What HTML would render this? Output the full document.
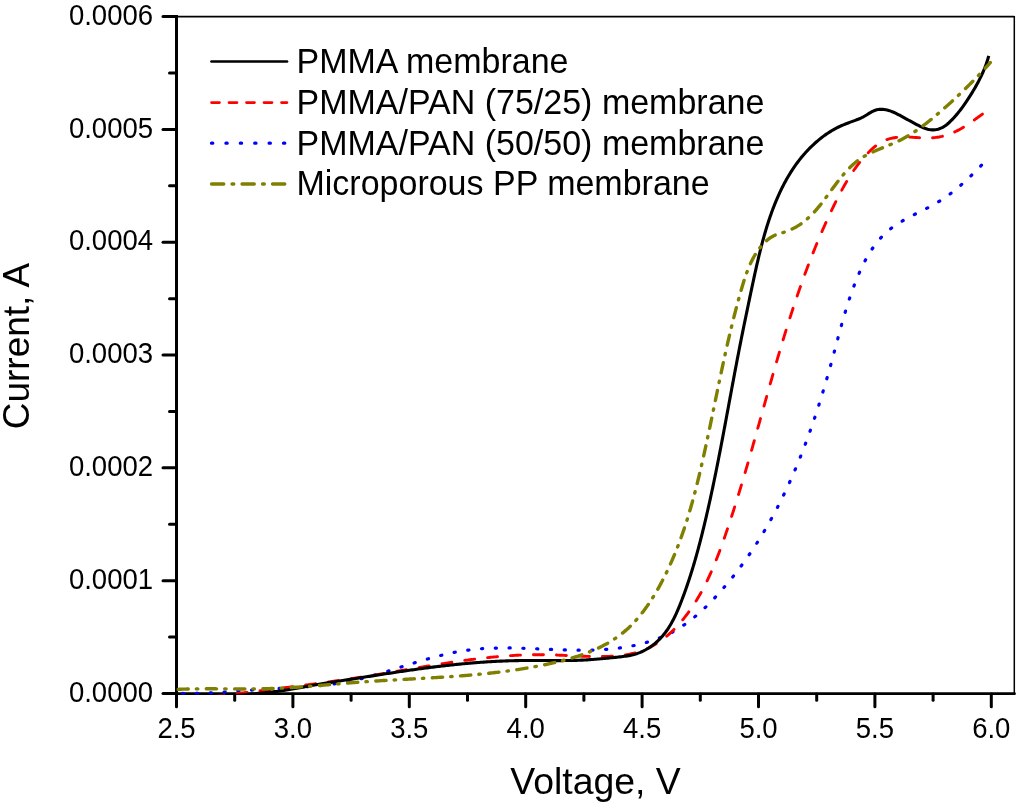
<!DOCTYPE html><html><head><meta charset="utf-8"><style>html,body{margin:0;padding:0;background:#fff;width:1024px;height:808px;overflow:hidden}svg{display:block;will-change:transform}text{font-family:"Liberation Sans",sans-serif;fill:#000}</style></head><body>
<svg width="1024" height="808" viewBox="0 0 1024 808">
<g stroke="#000" fill="none">
<line x1="176.5" y1="16.65" x2="1014.3" y2="16.65" stroke-width="1.6"/>
<line x1="1014.3" y1="16" x2="1014.3" y2="693.5" stroke-width="1.5"/>
<line x1="176.5" y1="15.1" x2="176.5" y2="695" stroke-width="3"/>
<line x1="176.5" y1="693.7" x2="1014.5" y2="693.7" stroke-width="2.8" stroke-linecap="round"/>
<line x1="163" y1="693.50" x2="176" y2="693.50" stroke-width="3" stroke-linecap="round"/>
<line x1="169.5" y1="637.09" x2="176" y2="637.09" stroke-width="3" stroke-linecap="round"/>
<line x1="163" y1="580.68" x2="176" y2="580.68" stroke-width="3" stroke-linecap="round"/>
<line x1="169.5" y1="524.27" x2="176" y2="524.27" stroke-width="3" stroke-linecap="round"/>
<line x1="163" y1="467.87" x2="176" y2="467.87" stroke-width="3" stroke-linecap="round"/>
<line x1="169.5" y1="411.46" x2="176" y2="411.46" stroke-width="3" stroke-linecap="round"/>
<line x1="163" y1="355.05" x2="176" y2="355.05" stroke-width="3" stroke-linecap="round"/>
<line x1="169.5" y1="298.64" x2="176" y2="298.64" stroke-width="3" stroke-linecap="round"/>
<line x1="163" y1="242.23" x2="176" y2="242.23" stroke-width="3" stroke-linecap="round"/>
<line x1="169.5" y1="185.82" x2="176" y2="185.82" stroke-width="3" stroke-linecap="round"/>
<line x1="163" y1="129.42" x2="176" y2="129.42" stroke-width="3" stroke-linecap="round"/>
<line x1="169.5" y1="73.01" x2="176" y2="73.01" stroke-width="3" stroke-linecap="round"/>
<line x1="163" y1="16.60" x2="176" y2="16.60" stroke-width="3" stroke-linecap="round"/>
<line x1="176.50" y1="694" x2="176.50" y2="706.8" stroke-width="3" stroke-linecap="round"/>
<line x1="234.70" y1="694" x2="234.70" y2="700.3" stroke-width="3" stroke-linecap="round"/>
<line x1="292.90" y1="694" x2="292.90" y2="706.8" stroke-width="3" stroke-linecap="round"/>
<line x1="351.10" y1="694" x2="351.10" y2="700.3" stroke-width="3" stroke-linecap="round"/>
<line x1="409.30" y1="694" x2="409.30" y2="706.8" stroke-width="3" stroke-linecap="round"/>
<line x1="467.50" y1="694" x2="467.50" y2="700.3" stroke-width="3" stroke-linecap="round"/>
<line x1="525.70" y1="694" x2="525.70" y2="706.8" stroke-width="3" stroke-linecap="round"/>
<line x1="583.90" y1="694" x2="583.90" y2="700.3" stroke-width="3" stroke-linecap="round"/>
<line x1="642.10" y1="694" x2="642.10" y2="706.8" stroke-width="3" stroke-linecap="round"/>
<line x1="700.30" y1="694" x2="700.30" y2="700.3" stroke-width="3" stroke-linecap="round"/>
<line x1="758.50" y1="694" x2="758.50" y2="706.8" stroke-width="3" stroke-linecap="round"/>
<line x1="816.70" y1="694" x2="816.70" y2="700.3" stroke-width="3" stroke-linecap="round"/>
<line x1="874.90" y1="694" x2="874.90" y2="706.8" stroke-width="3" stroke-linecap="round"/>
<line x1="933.10" y1="694" x2="933.10" y2="700.3" stroke-width="3" stroke-linecap="round"/>
<line x1="991.30" y1="694" x2="991.30" y2="706.8" stroke-width="3" stroke-linecap="round"/>
</g>
<defs><clipPath id="pc"><rect x="176.5" y="16" width="838" height="678.6"/></clipPath></defs>
<g clip-path="url(#pc)" fill="none" stroke-linejoin="round">
<path d="M176.53,693.30 L178.02,693.35 L179.52,693.39 L181.02,693.43 L182.52,693.46 L184.02,693.48 L185.52,693.49 L187.02,693.50 L188.51,693.51 L190.01,693.50 L191.51,693.49 L193.01,693.48 L194.51,693.45 L196.01,693.43 L197.51,693.39 L199.01,693.36 L200.50,693.31 L202.00,693.26 L203.50,693.21 L205.00,693.15 L206.50,693.09 L207.99,693.03 L209.49,692.96 L210.99,692.88 L212.49,692.81 L213.98,692.72 L215.48,692.64 L216.98,692.55 L218.47,692.46 L219.97,692.37 L221.46,692.27 L222.96,692.18 L224.45,692.08 L225.95,691.97 L227.45,691.87 L228.94,691.76 L230.44,691.66 L231.93,691.55 L233.43,691.44 L234.92,691.33 L236.42,691.21 L237.91,691.10 L239.40,690.99 L240.90,690.87 L242.39,690.76 L243.89,690.65 L245.38,690.53 L246.88,690.42 L248.37,690.31 L249.87,690.19 L251.36,690.08 L252.86,689.97 L254.35,689.86 L255.85,689.75 L257.34,689.65 L258.84,689.54 L260.33,689.44 L261.83,689.34 L263.32,689.24 L264.82,689.14 L266.32,689.05 L267.81,688.96 L269.31,688.87 L270.81,688.78 L272.30,688.70 L273.80,688.61 L275.30,688.53 L276.79,688.45 L278.29,688.37 L279.79,688.29 L281.28,688.21 L282.78,688.13 L284.28,688.05 L285.77,687.97 L287.27,687.89 L288.77,687.81 L290.26,687.73 L291.76,687.65 L293.26,687.56 L294.75,687.48 L296.25,687.39 L297.75,687.30 L299.24,687.21 L300.74,687.12 L302.23,687.02 L303.73,686.92 L305.23,686.82 L306.72,686.71 L308.22,686.61 L309.71,686.49 L311.20,686.38 L312.70,686.26 L314.19,686.13 L315.69,686.00 L317.18,685.87 L318.67,685.73 L320.16,685.58 L321.65,685.43 L323.15,685.28 L324.64,685.11 L326.13,684.94 L327.61,684.77 L329.10,684.59 L330.59,684.40 L332.08,684.20 L333.56,684.00 L335.04,683.79 L336.53,683.57 L338.01,683.35 L339.49,683.11 L340.97,682.87 L342.45,682.62 L343.92,682.36 L345.40,682.09 L346.87,681.82 L348.34,681.53 L349.81,681.23 L351.28,680.93 L352.75,680.62 L354.21,680.30 L355.67,679.97 L357.13,679.63 L358.59,679.29 L360.05,678.94 L361.51,678.58 L362.96,678.22 L364.41,677.85 L365.86,677.47 L367.31,677.09 L368.76,676.70 L370.21,676.31 L371.65,675.91 L373.10,675.51 L374.54,675.10 L375.98,674.69 L377.42,674.27 L378.86,673.86 L380.30,673.43 L381.74,673.01 L383.17,672.58 L384.61,672.15 L386.04,671.71 L387.48,671.27 L388.91,670.83 L390.34,670.39 L391.77,669.95 L393.20,669.50 L394.64,669.06 L396.07,668.61 L397.50,668.16 L398.93,667.72 L400.36,667.27 L401.79,666.82 L403.22,666.37 L404.65,665.92 L406.08,665.47 L407.51,665.03 L408.94,664.58 L410.37,664.13 L411.80,663.69 L413.24,663.25 L414.67,662.81 L416.10,662.37 L417.54,661.94 L418.97,661.50 L420.41,661.07 L421.84,660.64 L423.28,660.22 L424.72,659.80 L426.16,659.38 L427.60,658.97 L429.04,658.56 L430.49,658.16 L431.93,657.76 L433.38,657.36 L434.83,656.97 L436.28,656.59 L437.73,656.21 L439.18,655.84 L440.63,655.47 L442.09,655.12 L443.54,654.76 L445.00,654.42 L446.46,654.08 L447.92,653.75 L449.39,653.42 L450.85,653.11 L452.32,652.80 L453.79,652.50 L455.26,652.21 L456.73,651.93 L458.21,651.66 L459.68,651.40 L461.16,651.15 L462.64,650.91 L464.12,650.68 L465.60,650.46 L467.09,650.25 L468.57,650.05 L470.06,649.86 L471.55,649.68 L473.04,649.51 L474.53,649.35 L476.02,649.21 L477.51,649.07 L479.01,648.94 L480.50,648.82 L482.00,648.71 L483.49,648.60 L484.99,648.51 L486.48,648.42 L487.98,648.34 L489.48,648.27 L490.98,648.21 L492.47,648.15 L493.97,648.10 L495.47,648.06 L496.97,648.02 L498.47,647.99 L499.97,647.97 L501.46,647.96 L502.96,647.94 L504.46,647.94 L505.96,647.94 L507.46,647.94 L508.96,647.95 L510.46,647.97 L511.96,647.99 L513.46,648.01 L514.95,648.04 L516.45,648.07 L517.95,648.10 L519.45,648.14 L520.95,648.19 L522.45,648.23 L523.95,648.28 L525.44,648.33 L526.94,648.38 L528.44,648.44 L529.94,648.49 L531.44,648.55 L532.93,648.61 L534.43,648.67 L535.93,648.74 L537.43,648.80 L538.92,648.87 L540.42,648.93 L541.92,649.00 L543.42,649.06 L544.91,649.13 L546.41,649.20 L547.91,649.26 L549.41,649.33 L550.90,649.39 L552.40,649.45 L553.90,649.52 L555.40,649.58 L556.89,649.64 L558.39,649.69 L559.89,649.75 L561.39,649.80 L562.89,649.85 L564.38,649.90 L565.88,649.95 L567.38,649.99 L568.88,650.03 L570.38,650.06 L571.88,650.09 L573.38,650.12 L574.87,650.15 L576.37,650.17 L577.87,650.18 L579.37,650.19 L580.87,650.20 L582.37,650.20 L583.87,650.19 L585.37,650.18 L586.87,650.17 L588.36,650.15 L589.86,650.12 L591.36,650.09 L592.86,650.04 L594.36,650.00 L595.86,649.94 L597.35,649.88 L598.85,649.81 L600.35,649.74 L601.85,649.65 L603.34,649.56 L604.84,649.46 L606.33,649.35 L607.83,649.23 L609.32,649.11 L610.81,648.97 L612.31,648.83 L613.80,648.67 L615.29,648.51 L616.77,648.33 L618.26,648.15 L619.75,647.96 L621.23,647.75 L622.72,647.54 L624.20,647.31 L625.68,647.07 L627.16,646.83 L628.63,646.57 L630.11,646.30 L631.58,646.01 L633.05,645.72 L634.52,645.41 L635.98,645.10 L637.44,644.77 L638.90,644.42 L640.36,644.07 L641.81,643.70 L643.26,643.32 L644.71,642.92 L646.15,642.51 L647.59,642.09 L649.02,641.65 L650.45,641.20 L651.88,640.74 L653.30,640.26 L654.71,639.77 L656.12,639.26 L657.53,638.74 L658.93,638.20 L660.32,637.65 L661.71,637.08 L663.09,636.49 L664.46,635.89 L665.83,635.28 L667.19,634.65 L668.54,634.00 L669.88,633.33 L671.22,632.65 L672.55,631.96 L673.87,631.25 L675.18,630.52 L676.48,629.77 L677.77,629.01 L679.05,628.23 L680.32,627.43 L681.58,626.62 L682.83,625.80 L684.07,624.96 L685.30,624.10 L686.53,623.24 L687.74,622.35 L688.94,621.46 L690.14,620.56 L691.32,619.64 L692.50,618.71 L693.66,617.77 L694.82,616.82 L695.97,615.85 L697.11,614.88 L698.25,613.90 L699.37,612.91 L700.49,611.91 L701.60,610.90 L702.70,609.88 L703.79,608.86 L704.88,607.83 L705.96,606.79 L707.03,605.74 L708.09,604.68 L709.15,603.62 L710.20,602.55 L711.25,601.48 L712.29,600.40 L713.32,599.31 L714.35,598.22 L715.37,597.13 L716.39,596.03 L717.40,594.92 L718.41,593.81 L719.41,592.69 L720.41,591.57 L721.40,590.45 L722.39,589.32 L723.37,588.19 L724.35,587.06 L725.32,585.92 L726.29,584.77 L727.26,583.63 L728.22,582.48 L729.17,581.32 L730.12,580.16 L731.07,579.00 L732.01,577.83 L732.95,576.66 L733.88,575.49 L734.81,574.31 L735.73,573.13 L736.65,571.94 L737.56,570.76 L738.47,569.56 L739.37,568.37 L740.27,567.17 L741.17,565.96 L742.06,564.76 L742.94,563.55 L743.82,562.34 L744.70,561.12 L745.57,559.90 L746.44,558.68 L747.30,557.45 L748.15,556.22 L749.01,554.99 L749.86,553.75 L750.70,552.51 L751.54,551.27 L752.37,550.03 L753.20,548.78 L754.03,547.53 L754.85,546.27 L755.67,545.01 L756.48,543.75 L757.28,542.49 L758.09,541.23 L758.89,539.96 L759.68,538.69 L760.47,537.41 L761.25,536.13 L762.03,534.85 L762.81,533.57 L763.58,532.29 L764.35,531.00 L765.11,529.71 L765.87,528.42 L766.63,527.12 L767.38,525.82 L768.12,524.52 L768.86,523.22 L769.60,521.92 L770.33,520.61 L771.06,519.30 L771.79,517.99 L772.51,516.67 L773.22,515.35 L773.94,514.04 L774.64,512.71 L775.35,511.39 L776.05,510.06 L776.74,508.74 L777.43,507.41 L778.12,506.08 L778.81,504.74 L779.49,503.41 L780.16,502.07 L780.83,500.73 L781.50,499.38 L782.16,498.04 L782.82,496.70 L783.48,495.35 L784.13,494.00 L784.78,492.65 L785.43,491.29 L786.07,489.94 L786.70,488.58 L787.34,487.22 L787.97,485.86 L788.59,484.50 L789.21,483.14 L789.83,481.77 L790.45,480.40 L791.06,479.04 L791.67,477.67 L792.27,476.29 L792.87,474.92 L793.47,473.55 L794.06,472.17 L794.65,470.79 L795.24,469.41 L795.82,468.03 L796.40,466.65 L796.98,465.27 L797.56,463.88 L798.13,462.49 L798.69,461.11 L799.26,459.72 L799.82,458.33 L800.37,456.94 L800.93,455.54 L801.48,454.15 L802.03,452.75 L802.57,451.36 L803.11,449.96 L803.65,448.56 L804.18,447.16 L804.72,445.76 L805.25,444.36 L805.77,442.95 L806.30,441.55 L806.82,440.14 L807.33,438.74 L807.85,437.33 L808.36,435.92 L808.87,434.51 L809.38,433.10 L809.88,431.69 L810.38,430.27 L810.88,428.86 L811.37,427.44 L811.86,426.03 L812.35,424.61 L812.84,423.19 L813.33,421.78 L813.81,420.36 L814.29,418.94 L814.77,417.52 L815.24,416.09 L815.71,414.67 L816.18,413.25 L816.65,411.82 L817.11,410.40 L817.58,408.97 L818.04,407.55 L818.49,406.12 L818.95,404.69 L819.40,403.26 L819.85,401.83 L820.30,400.40 L820.75,398.97 L821.19,397.54 L821.63,396.11 L822.07,394.67 L822.51,393.24 L822.95,391.80 L823.38,390.37 L823.81,388.93 L824.24,387.50 L824.67,386.06 L825.09,384.62 L825.52,383.19 L825.94,381.75 L826.36,380.31 L826.78,378.87 L827.19,377.43 L827.61,375.99 L828.02,374.55 L828.43,373.11 L828.84,371.66 L829.25,370.22 L829.65,368.78 L830.06,367.34 L830.46,365.89 L830.86,364.45 L831.26,363.00 L831.66,361.56 L832.05,360.11 L832.45,358.66 L832.84,357.22 L833.23,355.77 L833.62,354.32 L834.01,352.88 L834.40,351.43 L834.79,349.98 L835.17,348.53 L835.56,347.08 L835.94,345.64 L836.33,344.19 L836.72,342.74 L837.10,341.29 L837.49,339.84 L837.88,338.39 L838.26,336.95 L838.65,335.50 L839.04,334.05 L839.43,332.60 L839.83,331.16 L840.22,329.71 L840.62,328.26 L841.01,326.82 L841.41,325.38 L841.82,323.93 L842.22,322.49 L842.63,321.05 L843.04,319.60 L843.45,318.16 L843.87,316.72 L844.29,315.28 L844.72,313.85 L845.14,312.41 L845.57,310.97 L846.01,309.54 L846.45,308.11 L846.89,306.68 L847.34,305.24 L847.79,303.82 L848.25,302.39 L848.72,300.96 L849.18,299.54 L849.66,298.12 L850.14,296.70 L850.62,295.28 L851.11,293.86 L851.61,292.45 L852.11,291.04 L852.62,289.63 L853.14,288.22 L853.66,286.81 L854.19,285.41 L854.72,284.01 L855.27,282.61 L855.82,281.22 L856.37,279.83 L856.94,278.44 L857.51,277.05 L858.09,275.67 L858.68,274.29 L859.27,272.92 L859.88,271.55 L860.50,270.18 L861.12,268.82 L861.76,267.46 L862.41,266.11 L863.07,264.76 L863.74,263.42 L864.42,262.09 L865.11,260.76 L865.82,259.44 L866.54,258.12 L867.28,256.82 L868.02,255.52 L868.79,254.23 L869.57,252.95 L870.36,251.68 L871.17,250.41 L872.00,249.16 L872.84,247.92 L873.70,246.69 L874.57,245.48 L875.47,244.28 L876.38,243.09 L877.31,241.91 L878.26,240.75 L879.23,239.61 L880.22,238.48 L881.23,237.37 L882.25,236.28 L883.30,235.21 L884.37,234.16 L885.46,233.12 L886.56,232.11 L887.69,231.13 L888.84,230.16 L890.00,229.22 L891.19,228.30 L892.39,227.40 L893.61,226.53 L894.84,225.67 L896.08,224.83 L897.34,224.02 L898.60,223.21 L899.88,222.43 L901.16,221.66 L902.46,220.90 L903.76,220.16 L905.07,219.43 L906.38,218.70 L907.70,217.99 L909.03,217.29 L910.35,216.60 L911.68,215.91 L913.02,215.22 L914.36,214.55 L915.69,213.87 L917.03,213.20 L918.37,212.53 L919.72,211.86 L921.06,211.19 L922.40,210.51 L923.73,209.84 L925.07,209.16 L926.41,208.48 L927.74,207.79 L929.07,207.10 L930.39,206.40 L931.71,205.69 L933.03,204.97 L934.34,204.24 L935.64,203.49 L936.93,202.74 L938.22,201.97 L939.50,201.19 L940.77,200.39 L942.03,199.58 L943.28,198.76 L944.52,197.92 L945.76,197.07 L946.98,196.21 L948.20,195.33 L949.41,194.44 L950.61,193.54 L951.80,192.63 L952.98,191.71 L954.16,190.78 L955.32,189.84 L956.48,188.89 L957.63,187.93 L958.78,186.96 L959.91,185.98 L961.04,185.00 L962.16,184.00 L963.28,183.00 L964.39,182.00 L965.50,180.98 L966.59,179.96 L967.69,178.94 L968.77,177.90 L969.86,176.87 L970.93,175.82 L972.01,174.78 L973.07,173.73 L974.14,172.67 L975.20,171.61 L976.26,170.55 L977.31,169.48 L978.36,168.42 L979.41,167.35 L980.46,166.27 L981.50,165.20" stroke="#0000ff" stroke-width="3.2" stroke-dasharray="1.2 12.6" stroke-dashoffset="7.65" stroke-linecap="round"/>
<path d="M199.95,698.07 L201.44,697.89 L202.93,697.71 L204.41,697.53 L205.90,697.35 L207.39,697.17 L208.88,696.99 L210.36,696.81 L211.85,696.63 L213.34,696.45 L214.83,696.27 L216.32,696.09 L217.80,695.91 L219.29,695.73 L220.78,695.55 L222.27,695.37 L223.76,695.19 L225.24,695.01 L226.73,694.83 L228.22,694.65 L229.71,694.47 L231.19,694.29 L232.68,694.11 L234.17,693.94 L235.66,693.76 L237.15,693.58 L238.63,693.40 L240.12,693.22 L241.61,693.04 L243.10,692.86 L244.59,692.68 L246.07,692.50 L247.56,692.32 L249.05,692.14 L250.54,691.96 L252.02,691.78 L253.51,691.60 L255.00,691.42 L256.49,691.24 L257.98,691.06 L259.46,690.87 L260.95,690.69 L262.44,690.51 L263.93,690.33 L265.41,690.14 L266.90,689.96 L268.39,689.78 L269.88,689.60 L271.36,689.41 L272.85,689.23 L274.34,689.04 L275.82,688.86 L277.31,688.67 L278.80,688.49 L280.29,688.30 L281.77,688.11 L283.26,687.93 L284.75,687.74 L286.23,687.55 L287.72,687.36 L289.21,687.17 L290.69,686.98 L292.18,686.79 L293.67,686.60 L295.15,686.41 L296.64,686.22 L298.13,686.03 L299.61,685.83 L301.10,685.64 L302.58,685.45 L304.07,685.25 L305.56,685.06 L307.04,684.86 L308.53,684.66 L310.01,684.47 L311.50,684.27 L312.98,684.07 L314.47,683.87 L315.95,683.67 L317.44,683.47 L318.92,683.27 L320.41,683.07 L321.89,682.86 L323.38,682.66 L324.86,682.45 L326.35,682.25 L327.83,682.04 L329.32,681.83 L330.80,681.63 L332.28,681.42 L333.77,681.21 L335.25,681.00 L336.74,680.78 L338.22,680.57 L339.70,680.36 L341.19,680.14 L342.67,679.93 L344.15,679.71 L345.63,679.49 L347.12,679.28 L348.60,679.06 L350.08,678.84 L351.56,678.61 L353.05,678.39 L354.53,678.17 L356.01,677.94 L357.49,677.72 L358.97,677.49 L360.45,677.26 L361.93,677.03 L363.42,676.80 L364.90,676.57 L366.38,676.34 L367.86,676.11 L369.34,675.87 L370.82,675.64 L372.30,675.40 L373.78,675.16 L375.26,674.92 L376.73,674.68 L378.21,674.44 L379.69,674.19 L381.17,673.95 L382.65,673.71 L384.13,673.46 L385.61,673.21 L387.08,672.96 L388.56,672.72 L390.04,672.47 L391.52,672.22 L393.00,671.97 L394.47,671.72 L395.95,671.47 L397.43,671.21 L398.91,670.96 L400.38,670.71 L401.86,670.46 L403.34,670.21 L404.81,669.95 L406.29,669.70 L407.77,669.45 L409.25,669.20 L410.72,668.95 L412.20,668.69 L413.68,668.44 L415.16,668.19 L416.63,667.94 L418.11,667.69 L419.59,667.44 L421.07,667.19 L422.54,666.94 L424.02,666.70 L425.50,666.45 L426.98,666.20 L428.46,665.96 L429.94,665.71 L431.41,665.47 L432.89,665.23 L434.37,664.99 L435.85,664.75 L437.33,664.51 L438.81,664.27 L440.29,664.04 L441.77,663.80 L443.25,663.57 L444.73,663.34 L446.21,663.11 L447.69,662.88 L449.18,662.65 L450.66,662.43 L452.14,662.21 L453.62,661.99 L455.11,661.77 L456.59,661.55 L458.07,661.34 L459.55,661.13 L461.04,660.92 L462.52,660.71 L464.01,660.50 L465.49,660.30 L466.98,660.10 L468.46,659.90 L469.95,659.71 L471.44,659.52 L472.92,659.33 L474.41,659.14 L475.90,658.96 L477.38,658.78 L478.87,658.60 L480.36,658.42 L481.85,658.25 L483.34,658.08 L484.83,657.92 L486.32,657.76 L487.81,657.60 L489.30,657.44 L490.79,657.29 L492.28,657.14 L493.77,657.00 L495.26,656.86 L496.76,656.72 L498.25,656.59 L499.74,656.46 L501.24,656.34 L502.73,656.22 L504.22,656.10 L505.72,655.99 L507.21,655.88 L508.71,655.77 L510.20,655.68 L511.70,655.58 L513.20,655.49 L514.69,655.40 L516.19,655.32 L517.68,655.25 L519.18,655.17 L520.68,655.11 L522.18,655.04 L523.67,654.99 L525.17,654.93 L526.67,654.89 L528.17,654.84 L529.67,654.81 L531.16,654.78 L532.66,654.75 L534.16,654.73 L535.66,654.71 L537.16,654.70 L538.66,654.70 L540.16,654.70 L541.65,654.71 L543.15,654.72 L544.65,654.74 L546.15,654.76 L547.65,654.79 L549.15,654.83 L550.64,654.87 L552.14,654.91 L553.64,654.96 L555.14,655.02 L556.64,655.07 L558.13,655.13 L559.63,655.19 L561.13,655.26 L562.62,655.32 L564.12,655.39 L565.62,655.46 L567.12,655.53 L568.61,655.60 L570.11,655.67 L571.61,655.74 L573.10,655.81 L574.60,655.88 L576.10,655.95 L577.59,656.02 L579.09,656.08 L580.59,656.14 L582.09,656.20 L583.58,656.25 L585.08,656.31 L586.58,656.35 L588.08,656.40 L589.58,656.44 L591.07,656.47 L592.57,656.50 L594.07,656.52 L595.57,656.54 L597.07,656.55 L598.57,656.56 L600.07,656.56 L601.56,656.55 L603.06,656.53 L604.56,656.51 L606.06,656.47 L607.56,656.43 L609.06,656.37 L610.55,656.30 L612.05,656.22 L613.54,656.13 L615.04,656.03 L616.53,655.91 L618.03,655.78 L619.52,655.63 L621.01,655.46 L622.49,655.28 L623.98,655.08 L625.46,654.86 L626.94,654.62 L628.42,654.36 L629.89,654.07 L631.36,653.77 L632.82,653.44 L634.28,653.09 L635.73,652.71 L637.17,652.31 L638.61,651.88 L640.03,651.43 L641.45,650.94 L642.86,650.43 L644.25,649.88 L645.64,649.31 L647.01,648.70 L648.37,648.08 L649.72,647.42 L651.05,646.73 L652.37,646.03 L653.68,645.29 L654.97,644.53 L656.25,643.75 L657.52,642.95 L658.77,642.12 L660.00,641.28 L661.22,640.41 L662.43,639.52 L663.63,638.62 L664.80,637.69 L665.97,636.75 L667.12,635.79 L668.26,634.81 L669.38,633.82 L670.49,632.81 L671.59,631.79 L672.67,630.75 L673.74,629.70 L674.79,628.64 L675.83,627.56 L676.86,626.47 L677.88,625.37 L678.89,624.26 L679.88,623.14 L680.86,622.00 L681.83,620.86 L682.78,619.71 L683.73,618.54 L684.66,617.37 L685.59,616.19 L686.50,615.00 L687.40,613.80 L688.29,612.60 L689.17,611.38 L690.04,610.16 L690.89,608.93 L691.74,607.70 L692.58,606.46 L693.41,605.21 L694.22,603.95 L695.03,602.69 L695.83,601.42 L696.61,600.14 L697.39,598.86 L698.16,597.57 L698.91,596.28 L699.66,594.98 L700.40,593.68 L701.13,592.37 L701.85,591.05 L702.56,589.74 L703.27,588.41 L703.96,587.08 L704.65,585.75 L705.33,584.41 L705.99,583.07 L706.66,581.73 L707.31,580.38 L707.96,579.03 L708.59,577.67 L709.23,576.31 L709.85,574.95 L710.47,573.59 L711.08,572.22 L711.68,570.84 L712.28,569.47 L712.87,568.09 L713.45,566.71 L714.03,565.33 L714.60,563.94 L715.17,562.56 L715.73,561.17 L716.29,559.78 L716.84,558.38 L717.38,556.99 L717.92,555.59 L718.46,554.19 L718.99,552.79 L719.52,551.39 L720.04,549.98 L720.56,548.57 L721.08,547.17 L721.59,545.76 L722.09,544.35 L722.60,542.94 L723.10,541.53 L723.60,540.11 L724.10,538.70 L724.59,537.28 L725.08,535.87 L725.57,534.45 L726.05,533.03 L726.54,531.61 L727.02,530.20 L727.50,528.78 L727.98,527.36 L728.46,525.93 L728.93,524.51 L729.40,523.09 L729.87,521.67 L730.34,520.25 L730.81,518.82 L731.28,517.40 L731.74,515.97 L732.20,514.55 L732.67,513.12 L733.13,511.69 L733.58,510.27 L734.04,508.84 L734.49,507.41 L734.95,505.98 L735.40,504.55 L735.85,503.12 L736.30,501.69 L736.74,500.26 L737.19,498.83 L737.63,497.40 L738.08,495.97 L738.52,494.54 L738.96,493.11 L739.40,491.67 L739.83,490.24 L740.27,488.81 L740.71,487.37 L741.14,485.94 L741.57,484.50 L742.00,483.07 L742.43,481.63 L742.86,480.20 L743.29,478.76 L743.72,477.32 L744.15,475.89 L744.57,474.45 L744.99,473.01 L745.42,471.57 L745.84,470.14 L746.26,468.70 L746.68,467.26 L747.10,465.82 L747.52,464.38 L747.94,462.94 L748.35,461.50 L748.77,460.06 L749.18,458.62 L749.60,457.18 L750.01,455.74 L750.42,454.30 L750.84,452.86 L751.25,451.42 L751.66,449.98 L752.07,448.54 L752.48,447.10 L752.89,445.65 L753.30,444.21 L753.71,442.77 L754.11,441.33 L754.52,439.89 L754.93,438.44 L755.34,437.00 L755.74,435.56 L756.15,434.12 L756.55,432.67 L756.96,431.23 L757.36,429.79 L757.77,428.34 L758.17,426.90 L758.58,425.46 L758.98,424.02 L759.38,422.57 L759.79,421.13 L760.19,419.69 L760.59,418.24 L761.00,416.80 L761.40,415.36 L761.80,413.91 L762.21,412.47 L762.61,411.03 L763.01,409.58 L763.42,408.14 L763.82,406.70 L764.22,405.25 L764.63,403.81 L765.03,402.37 L765.44,400.92 L765.84,399.48 L766.25,398.04 L766.65,396.59 L767.06,395.15 L767.46,393.71 L767.87,392.27 L768.27,390.82 L768.68,389.38 L769.09,387.94 L769.49,386.50 L769.90,385.05 L770.31,383.61 L770.72,382.17 L771.13,380.73 L771.54,379.29 L771.95,377.85 L772.36,376.40 L772.77,374.96 L773.18,373.52 L773.60,372.08 L774.01,370.64 L774.43,369.20 L774.84,367.76 L775.26,366.32 L775.67,364.88 L776.09,363.44 L776.51,362.00 L776.93,360.57 L777.35,359.13 L777.77,357.69 L778.19,356.25 L778.62,354.81 L779.04,353.38 L779.47,351.94 L779.89,350.50 L780.32,349.07 L780.75,347.63 L781.18,346.19 L781.61,344.76 L782.04,343.32 L782.47,341.89 L782.91,340.45 L783.34,339.02 L783.78,337.59 L784.22,336.15 L784.66,334.72 L785.10,333.29 L785.54,331.86 L785.98,330.42 L786.43,328.99 L786.87,327.56 L787.32,326.13 L787.77,324.70 L788.22,323.27 L788.67,321.84 L789.13,320.42 L789.58,318.99 L790.04,317.56 L790.50,316.13 L790.96,314.71 L791.42,313.28 L791.88,311.86 L792.35,310.43 L792.81,309.01 L793.28,307.58 L793.75,306.16 L794.22,304.74 L794.70,303.32 L795.17,301.90 L795.65,300.48 L796.13,299.06 L796.61,297.64 L797.10,296.22 L797.58,294.80 L798.07,293.38 L798.56,291.97 L799.05,290.55 L799.54,289.14 L800.04,287.72 L800.53,286.31 L801.03,284.89 L801.54,283.48 L802.04,282.07 L802.55,280.66 L803.05,279.25 L803.57,277.84 L804.08,276.43 L804.59,275.03 L805.11,273.62 L805.63,272.21 L806.15,270.81 L806.68,269.41 L807.20,268.00 L807.73,266.60 L808.26,265.20 L808.80,263.80 L809.33,262.40 L809.87,261.00 L810.41,259.60 L810.96,258.21 L811.50,256.81 L812.05,255.42 L812.60,254.02 L813.16,252.63 L813.72,251.24 L814.28,249.85 L814.84,248.46 L815.40,247.07 L815.97,245.68 L816.54,244.30 L817.11,242.91 L817.69,241.53 L818.27,240.15 L818.85,238.77 L819.43,237.39 L820.02,236.01 L820.61,234.63 L821.20,233.25 L821.80,231.88 L822.39,230.50 L823.00,229.13 L823.60,227.76 L824.21,226.39 L824.82,225.02 L825.43,223.65 L826.05,222.29 L826.66,220.92 L827.29,219.56 L827.91,218.20 L828.54,216.84 L829.17,215.48 L829.81,214.12 L830.44,212.76 L831.08,211.41 L831.73,210.05 L832.37,208.70 L833.02,207.35 L833.68,206.00 L834.33,204.66 L834.99,203.31 L835.66,201.97 L836.32,200.62 L837.00,199.28 L837.67,197.95 L838.35,196.61 L839.04,195.28 L839.73,193.95 L840.43,192.63 L841.14,191.30 L841.85,189.98 L842.56,188.67 L843.29,187.36 L844.02,186.05 L844.76,184.74 L845.51,183.45 L846.26,182.15 L847.03,180.86 L847.80,179.58 L848.58,178.30 L849.37,177.03 L850.18,175.76 L850.99,174.50 L851.81,173.25 L852.64,172.00 L853.49,170.76 L854.34,169.53 L855.21,168.31 L856.09,167.10 L856.98,165.89 L857.88,164.69 L858.79,163.51 L859.72,162.33 L860.66,161.16 L861.61,160.01 L862.58,158.86 L863.56,157.73 L864.56,156.61 L865.57,155.50 L866.59,154.40 L867.63,153.32 L868.68,152.25 L869.74,151.20 L870.82,150.16 L871.92,149.14 L873.04,148.15 L874.18,147.17 L875.34,146.22 L876.53,145.31 L877.74,144.42 L878.97,143.58 L880.24,142.78 L881.53,142.02 L882.86,141.32 L884.21,140.67 L885.58,140.08 L886.99,139.55 L888.41,139.08 L889.85,138.66 L891.30,138.30 L892.77,137.99 L894.24,137.72 L895.73,137.50 L897.21,137.32 L898.71,137.18 L900.20,137.08 L901.70,137.01 L903.20,136.97 L904.69,136.96 L906.19,136.98 L907.69,137.02 L909.19,137.08 L910.69,137.15 L912.18,137.24 L913.68,137.33 L915.17,137.43 L916.67,137.53 L918.16,137.63 L919.66,137.72 L921.16,137.80 L922.65,137.88 L924.15,137.93 L925.65,137.97 L927.15,137.98 L928.65,137.97 L930.14,137.92 L931.64,137.84 L933.13,137.73 L934.63,137.59 L936.11,137.41 L937.60,137.20 L939.08,136.96 L940.55,136.67 L942.01,136.36 L943.47,136.00 L944.92,135.62 L946.35,135.19 L947.78,134.73 L949.19,134.23 L950.59,133.70 L951.98,133.14 L953.36,132.54 L954.72,131.92 L956.07,131.27 L957.41,130.59 L958.74,129.90 L960.05,129.18 L961.35,128.44 L962.65,127.68 L963.93,126.91 L965.20,126.12 L966.47,125.31 L967.73,124.50 L968.97,123.67 L970.22,122.83 L971.45,121.98 L972.68,121.13 L973.91,120.27 L975.13,119.40 L976.35,118.53 L977.57,117.65 L978.78,116.77 L980.00,115.89 L981.21,115.01 L982.42,114.14" stroke="#ff0000" stroke-width="2.9" stroke-dasharray="10 13" stroke-dashoffset="8.52" stroke-linecap="round"/>
<path d="M200.02,698.66 L201.51,698.48 L203.00,698.31 L204.48,698.14 L205.97,697.98 L207.46,697.82 L208.95,697.66 L210.44,697.51 L211.94,697.36 L213.43,697.22 L214.92,697.07 L216.41,696.94 L217.90,696.80 L219.40,696.67 L220.89,696.53 L222.38,696.40 L223.87,696.28 L225.37,696.15 L226.86,696.03 L228.35,695.91 L229.85,695.78 L231.34,695.66 L232.84,695.54 L234.33,695.42 L235.82,695.30 L237.32,695.19 L238.81,695.07 L240.30,694.95 L241.80,694.83 L243.29,694.71 L244.78,694.58 L246.28,694.46 L247.77,694.34 L249.26,694.21 L250.76,694.08 L252.25,693.95 L253.74,693.82 L255.24,693.68 L256.73,693.55 L258.22,693.41 L259.71,693.26 L261.20,693.12 L262.69,692.97 L264.18,692.81 L265.67,692.65 L267.16,692.49 L268.65,692.33 L270.14,692.15 L271.63,691.98 L273.12,691.80 L274.60,691.61 L276.09,691.42 L277.58,691.22 L279.06,691.02 L280.54,690.81 L282.03,690.60 L283.51,690.38 L284.99,690.15 L286.47,689.92 L287.95,689.68 L289.43,689.44 L290.91,689.20 L292.39,688.95 L293.86,688.70 L295.34,688.44 L296.82,688.18 L298.29,687.92 L299.77,687.66 L301.24,687.40 L302.72,687.13 L304.19,686.87 L305.67,686.60 L307.14,686.34 L308.62,686.08 L310.09,685.81 L311.57,685.55 L313.04,685.29 L314.52,685.03 L315.99,684.77 L317.47,684.52 L318.95,684.27 L320.43,684.02 L321.91,683.78 L323.38,683.54 L324.86,683.30 L326.34,683.06 L327.82,682.83 L329.30,682.60 L330.78,682.36 L332.26,682.13 L333.75,681.91 L335.23,681.68 L336.71,681.45 L338.19,681.22 L339.67,680.99 L341.15,680.76 L342.63,680.53 L344.11,680.30 L345.59,680.07 L347.07,679.84 L348.55,679.61 L350.03,679.37 L351.51,679.14 L352.99,678.91 L354.47,678.68 L355.95,678.44 L357.43,678.21 L358.92,677.98 L360.40,677.75 L361.88,677.51 L363.36,677.28 L364.84,677.05 L366.32,676.81 L367.80,676.58 L369.28,676.35 L370.76,676.12 L372.24,675.88 L373.72,675.65 L375.20,675.42 L376.68,675.19 L378.16,674.96 L379.64,674.73 L381.12,674.50 L382.60,674.27 L384.08,674.04 L385.56,673.82 L387.05,673.59 L388.53,673.36 L390.01,673.14 L391.49,672.91 L392.97,672.69 L394.45,672.47 L395.94,672.24 L397.42,672.02 L398.90,671.80 L400.38,671.58 L401.86,671.37 L403.35,671.15 L404.83,670.93 L406.31,670.72 L407.80,670.50 L409.28,670.29 L410.76,670.08 L412.25,669.87 L413.73,669.66 L415.21,669.46 L416.70,669.25 L418.18,669.05 L419.67,668.84 L421.15,668.64 L422.64,668.44 L424.12,668.25 L425.61,668.05 L427.10,667.86 L428.58,667.66 L430.07,667.47 L431.55,667.28 L433.04,667.10 L434.53,666.91 L436.01,666.73 L437.50,666.55 L438.99,666.37 L440.48,666.19 L441.97,666.02 L443.45,665.84 L444.94,665.67 L446.43,665.50 L447.92,665.34 L449.41,665.17 L450.90,665.01 L452.39,664.85 L453.88,664.70 L455.37,664.54 L456.86,664.39 L458.35,664.24 L459.84,664.10 L461.34,663.95 L462.83,663.81 L464.32,663.67 L465.81,663.53 L467.30,663.40 L468.80,663.27 L470.29,663.14 L471.78,663.02 L473.28,662.89 L474.77,662.77 L476.26,662.66 L477.76,662.54 L479.25,662.43 L480.75,662.32 L482.24,662.21 L483.74,662.11 L485.23,662.01 L486.73,661.91 L488.22,661.82 L489.72,661.73 L491.21,661.64 L492.71,661.55 L494.21,661.47 L495.70,661.39 L497.20,661.31 L498.70,661.24 L500.19,661.17 L501.69,661.10 L503.19,661.04 L504.68,660.98 L506.18,660.92 L507.68,660.87 L509.18,660.81 L510.67,660.77 L512.17,660.72 L513.67,660.68 L515.17,660.64 L516.67,660.61 L518.16,660.58 L519.66,660.55 L521.16,660.53 L522.66,660.50 L524.16,660.49 L525.66,660.47 L527.15,660.46 L528.65,660.46 L530.15,660.45 L531.65,660.45 L533.15,660.45 L534.65,660.46 L536.14,660.46 L537.64,660.47 L539.14,660.48 L540.64,660.49 L542.14,660.50 L543.64,660.51 L545.14,660.52 L546.63,660.53 L548.13,660.54 L549.63,660.55 L551.13,660.56 L552.63,660.57 L554.13,660.58 L555.62,660.59 L557.12,660.59 L558.62,660.59 L560.12,660.59 L561.62,660.59 L563.12,660.58 L564.62,660.57 L566.11,660.56 L567.61,660.54 L569.11,660.52 L570.61,660.49 L572.11,660.46 L573.60,660.43 L575.10,660.39 L576.60,660.34 L578.10,660.29 L579.60,660.23 L581.09,660.16 L582.59,660.09 L584.09,660.02 L585.58,659.93 L587.08,659.84 L588.57,659.75 L590.07,659.65 L591.56,659.55 L593.06,659.44 L594.55,659.32 L596.05,659.21 L597.54,659.08 L599.03,658.96 L600.52,658.83 L602.02,658.69 L603.51,658.55 L605.00,658.41 L606.49,658.27 L607.98,658.12 L609.48,657.97 L610.97,657.82 L612.46,657.67 L613.95,657.51 L615.44,657.35 L616.93,657.19 L618.42,657.03 L619.91,656.87 L621.39,656.70 L622.88,656.52 L624.37,656.33 L625.85,656.13 L627.33,655.90 L628.81,655.65 L630.28,655.37 L631.75,655.06 L633.21,654.71 L634.65,654.32 L636.09,653.89 L637.51,653.42 L638.92,652.90 L640.31,652.35 L641.69,651.75 L643.04,651.12 L644.39,650.45 L645.71,649.75 L647.01,649.01 L648.30,648.24 L649.56,647.43 L650.80,646.60 L652.02,645.73 L653.22,644.83 L654.40,643.90 L655.55,642.95 L656.68,641.96 L657.79,640.95 L658.87,639.91 L659.92,638.85 L660.95,637.76 L661.96,636.64 L662.93,635.51 L663.88,634.35 L664.81,633.17 L665.71,631.98 L666.59,630.76 L667.44,629.53 L668.28,628.28 L669.09,627.02 L669.87,625.75 L670.64,624.46 L671.39,623.16 L672.12,621.85 L672.83,620.53 L673.52,619.21 L674.20,617.87 L674.86,616.52 L675.50,615.17 L676.13,613.81 L676.75,612.45 L677.36,611.08 L677.95,609.70 L678.54,608.32 L679.11,606.94 L679.67,605.55 L680.23,604.16 L680.78,602.76 L681.32,601.37 L681.86,599.97 L682.39,598.57 L682.92,597.16 L683.44,595.76 L683.96,594.35 L684.47,592.95 L684.98,591.54 L685.48,590.12 L685.98,588.71 L686.48,587.30 L686.97,585.88 L687.45,584.46 L687.93,583.04 L688.41,581.62 L688.88,580.20 L689.35,578.78 L689.82,577.35 L690.27,575.93 L690.73,574.50 L691.18,573.07 L691.63,571.64 L692.07,570.21 L692.51,568.78 L692.95,567.34 L693.38,565.91 L693.81,564.47 L694.23,563.03 L694.65,561.60 L695.07,560.16 L695.48,558.72 L695.89,557.28 L696.30,555.83 L696.70,554.39 L697.10,552.95 L697.50,551.50 L697.89,550.06 L698.29,548.61 L698.67,547.16 L699.06,545.71 L699.44,544.26 L699.82,542.82 L700.20,541.37 L700.57,539.91 L700.94,538.46 L701.31,537.01 L701.68,535.56 L702.05,534.10 L702.41,532.65 L702.77,531.20 L703.13,529.74 L703.48,528.28 L703.83,526.83 L704.19,525.37 L704.54,523.91 L704.88,522.46 L705.23,521.00 L705.57,519.54 L705.92,518.08 L706.26,516.62 L706.59,515.16 L706.93,513.70 L707.27,512.24 L707.60,510.78 L707.93,509.32 L708.26,507.86 L708.59,506.40 L708.92,504.93 L709.25,503.47 L709.57,502.01 L709.89,500.55 L710.22,499.08 L710.54,497.62 L710.85,496.15 L711.17,494.69 L711.49,493.23 L711.80,491.76 L712.11,490.29 L712.43,488.83 L712.74,487.36 L713.05,485.90 L713.35,484.43 L713.66,482.96 L713.97,481.50 L714.27,480.03 L714.57,478.56 L714.88,477.09 L715.18,475.63 L715.48,474.16 L715.78,472.69 L716.07,471.22 L716.37,469.75 L716.66,468.28 L716.96,466.81 L717.25,465.34 L717.55,463.87 L717.84,462.40 L718.13,460.93 L718.42,459.46 L718.71,457.99 L719.00,456.52 L719.28,455.05 L719.57,453.58 L719.86,452.11 L720.14,450.64 L720.42,449.17 L720.71,447.70 L720.99,446.23 L721.27,444.75 L721.56,443.28 L721.84,441.81 L722.12,440.34 L722.40,438.87 L722.68,437.39 L722.96,435.92 L723.23,434.45 L723.51,432.98 L723.79,431.51 L724.07,430.03 L724.34,428.56 L724.62,427.09 L724.89,425.61 L725.17,424.14 L725.44,422.67 L725.72,421.20 L725.99,419.72 L726.27,418.25 L726.54,416.78 L726.82,415.30 L727.09,413.83 L727.36,412.36 L727.64,410.88 L727.91,409.41 L728.18,407.94 L728.46,406.46 L728.73,404.99 L729.00,403.52 L729.27,402.04 L729.55,400.57 L729.82,399.10 L730.09,397.62 L730.37,396.15 L730.64,394.68 L730.91,393.20 L731.19,391.73 L731.46,390.26 L731.73,388.78 L732.01,387.31 L732.28,385.84 L732.56,384.36 L732.83,382.89 L733.10,381.42 L733.38,379.94 L733.66,378.47 L733.93,377.00 L734.21,375.52 L734.49,374.05 L734.76,372.58 L735.04,371.11 L735.32,369.63 L735.60,368.16 L735.88,366.69 L736.16,365.22 L736.44,363.75 L736.72,362.27 L737.00,360.80 L737.28,359.33 L737.56,357.86 L737.85,356.39 L738.13,354.92 L738.42,353.45 L738.70,351.97 L738.99,350.50 L739.28,349.03 L739.56,347.56 L739.85,346.09 L740.14,344.62 L740.43,343.15 L740.72,341.68 L741.02,340.21 L741.31,338.74 L741.60,337.27 L741.90,335.80 L742.19,334.34 L742.49,332.87 L742.79,331.40 L743.09,329.93 L743.38,328.46 L743.68,326.99 L743.98,325.52 L744.28,324.06 L744.59,322.59 L744.89,321.12 L745.19,319.65 L745.49,318.19 L745.80,316.72 L746.10,315.25 L746.40,313.78 L746.71,312.32 L747.01,310.85 L747.32,309.38 L747.63,307.92 L747.93,306.45 L748.24,304.98 L748.54,303.51 L748.85,302.05 L749.16,300.58 L749.46,299.11 L749.77,297.65 L750.08,296.18 L750.39,294.71 L750.69,293.25 L751.00,291.78 L751.31,290.32 L751.62,288.85 L751.93,287.38 L752.24,285.92 L752.55,284.45 L752.86,282.99 L753.18,281.52 L753.49,280.06 L753.81,278.59 L754.12,277.13 L754.44,275.66 L754.76,274.20 L755.08,272.73 L755.41,271.27 L755.73,269.81 L756.06,268.35 L756.39,266.88 L756.72,265.42 L757.06,263.96 L757.40,262.50 L757.74,261.04 L758.08,259.58 L758.42,258.13 L758.77,256.67 L759.12,255.21 L759.47,253.76 L759.83,252.30 L760.19,250.85 L760.56,249.39 L760.92,247.94 L761.29,246.49 L761.67,245.04 L762.05,243.59 L762.43,242.14 L762.82,240.69 L763.21,239.25 L763.61,237.80 L764.01,236.36 L764.42,234.92 L764.83,233.47 L765.25,232.04 L765.68,230.60 L766.10,229.16 L766.54,227.73 L766.98,226.30 L767.43,224.87 L767.88,223.44 L768.34,222.01 L768.80,220.59 L769.28,219.17 L769.76,217.75 L770.24,216.33 L770.74,214.91 L771.24,213.50 L771.75,212.09 L772.26,210.68 L772.78,209.28 L773.32,207.88 L773.86,206.48 L774.40,205.09 L774.96,203.70 L775.52,202.31 L776.10,200.92 L776.68,199.54 L777.27,198.16 L777.87,196.79 L778.48,195.42 L779.10,194.06 L779.72,192.70 L780.36,191.34 L781.01,189.99 L781.66,188.64 L782.33,187.30 L783.01,185.96 L783.70,184.63 L784.39,183.31 L785.10,181.99 L785.82,180.67 L786.55,179.36 L787.29,178.06 L788.05,176.76 L788.81,175.47 L789.58,174.19 L790.37,172.92 L791.17,171.65 L791.98,170.39 L792.80,169.13 L793.63,167.89 L794.48,166.65 L795.34,165.42 L796.21,164.21 L797.09,162.99 L797.99,161.79 L798.90,160.60 L799.82,159.42 L800.75,158.25 L801.69,157.08 L802.65,155.93 L803.62,154.79 L804.61,153.66 L805.60,152.54 L806.61,151.43 L807.64,150.34 L808.67,149.25 L809.72,148.18 L810.78,147.12 L811.85,146.08 L812.94,145.05 L814.04,144.03 L815.15,143.02 L816.27,142.03 L817.40,141.05 L818.55,140.08 L819.71,139.13 L820.88,138.20 L822.07,137.28 L823.26,136.38 L824.47,135.49 L825.69,134.63 L826.92,133.77 L828.17,132.94 L829.43,132.13 L830.70,131.33 L831.98,130.55 L833.27,129.80 L834.58,129.06 L835.90,128.35 L837.23,127.66 L838.57,127.00 L839.92,126.35 L841.29,125.74 L842.66,125.14 L844.05,124.57 L845.44,124.01 L846.84,123.47 L848.24,122.93 L849.64,122.41 L851.05,121.90 L852.46,121.38 L853.86,120.87 L855.27,120.35 L856.67,119.82 L858.07,119.28 L859.45,118.71 L860.83,118.11 L862.18,117.46 L863.51,116.77 L864.81,116.02 L866.09,115.25 L867.36,114.45 L868.63,113.66 L869.91,112.88 L871.21,112.14 L872.54,111.44 L873.90,110.81 L875.30,110.28 L876.73,109.85 L878.20,109.55 L879.69,109.38 L881.19,109.31 L882.68,109.36 L884.18,109.50 L885.66,109.72 L887.12,110.03 L888.57,110.42 L890.00,110.87 L891.41,111.38 L892.80,111.94 L894.17,112.54 L895.53,113.17 L896.87,113.84 L898.20,114.52 L899.53,115.23 L900.84,115.94 L902.16,116.66 L903.47,117.38 L904.79,118.10 L906.10,118.82 L907.41,119.54 L908.73,120.26 L910.04,120.98 L911.36,121.69 L912.68,122.41 L914.00,123.12 L915.32,123.82 L916.65,124.52 L917.98,125.21 L919.31,125.89 L920.66,126.55 L922.02,127.17 L923.40,127.76 L924.80,128.30 L926.22,128.78 L927.66,129.19 L929.12,129.51 L930.60,129.75 L932.09,129.87 L933.59,129.86 L935.09,129.74 L936.56,129.50 L938.02,129.16 L939.45,128.71 L940.85,128.17 L942.21,127.54 L943.53,126.82 L944.80,126.03 L946.02,125.17 L947.20,124.24 L948.34,123.27 L949.44,122.25 L950.52,121.21 L951.57,120.15 L952.61,119.07 L953.64,117.97 L954.65,116.87 L955.64,115.74 L956.62,114.61 L957.58,113.46 L958.53,112.30 L959.46,111.13 L960.38,109.94 L961.29,108.75 L962.18,107.55 L963.06,106.34 L963.93,105.12 L964.79,103.89 L965.64,102.66 L966.48,101.41 L967.31,100.17 L968.14,98.91 L968.95,97.66 L969.76,96.39 L970.56,95.13 L971.35,93.86 L972.14,92.58 L972.92,91.30 L973.69,90.01 L974.45,88.72 L975.20,87.43 L975.94,86.12 L976.67,84.82 L977.39,83.50 L978.10,82.18 L978.80,80.86 L979.48,79.52 L980.15,78.18 L980.81,76.84 L981.46,75.49 L982.09,74.13 L982.71,72.76 L983.31,71.39 L983.89,70.01 L984.46,68.62 L985.01,67.23 L985.55,65.83 L986.06,64.42 L986.56,63.01 L987.04,61.59 L987.49,60.16 L987.93,58.73 L988.35,57.29 L988.74,55.84" stroke="#000" stroke-width="3.1"/>
<path d="M176.59,689.40 L178.09,689.34 L179.58,689.28 L181.08,689.22 L182.58,689.17 L184.08,689.13 L185.58,689.08 L187.08,689.05 L188.58,689.01 L190.07,688.98 L191.57,688.95 L193.07,688.92 L194.57,688.90 L196.07,688.88 L197.57,688.87 L199.07,688.85 L200.57,688.84 L202.07,688.83 L203.57,688.82 L205.06,688.82 L206.56,688.81 L208.06,688.81 L209.56,688.81 L211.06,688.81 L212.56,688.81 L214.06,688.82 L215.56,688.82 L217.06,688.83 L218.56,688.83 L220.06,688.84 L221.55,688.85 L223.05,688.86 L224.55,688.86 L226.05,688.87 L227.55,688.88 L229.05,688.89 L230.55,688.90 L232.05,688.90 L233.55,688.91 L235.05,688.92 L236.55,688.92 L238.04,688.93 L239.54,688.93 L241.04,688.93 L242.54,688.93 L244.04,688.93 L245.54,688.93 L247.04,688.93 L248.54,688.92 L250.04,688.91 L251.54,688.91 L253.04,688.89 L254.53,688.88 L256.03,688.86 L257.53,688.84 L259.03,688.82 L260.53,688.79 L262.03,688.77 L263.53,688.73 L265.03,688.70 L266.53,688.66 L268.02,688.62 L269.52,688.58 L271.02,688.53 L272.52,688.47 L274.02,688.42 L275.51,688.36 L277.01,688.29 L278.51,688.23 L280.01,688.16 L281.51,688.08 L283.00,688.00 L284.50,687.93 L286.00,687.84 L287.49,687.76 L288.99,687.67 L290.49,687.58 L291.98,687.48 L293.48,687.39 L294.97,687.29 L296.47,687.19 L297.97,687.09 L299.46,686.98 L300.96,686.88 L302.45,686.77 L303.95,686.66 L305.44,686.54 L306.94,686.43 L308.43,686.32 L309.92,686.20 L311.42,686.08 L312.91,685.96 L314.41,685.84 L315.90,685.72 L317.40,685.60 L318.89,685.47 L320.38,685.35 L321.88,685.23 L323.37,685.10 L324.87,684.97 L326.36,684.85 L327.85,684.72 L329.35,684.59 L330.84,684.47 L332.33,684.34 L333.83,684.21 L335.32,684.09 L336.82,683.96 L338.31,683.83 L339.80,683.71 L341.30,683.58 L342.79,683.46 L344.29,683.34 L345.78,683.21 L347.27,683.09 L348.77,682.97 L350.26,682.85 L351.76,682.73 L353.25,682.61 L354.75,682.50 L356.24,682.38 L357.74,682.27 L359.23,682.16 L360.73,682.05 L362.22,681.94 L363.72,681.83 L365.21,681.73 L366.71,681.62 L368.20,681.52 L369.70,681.42 L371.19,681.32 L372.69,681.22 L374.19,681.13 L375.68,681.03 L377.18,680.94 L378.67,680.84 L380.17,680.75 L381.67,680.66 L383.16,680.57 L384.66,680.48 L386.16,680.39 L387.65,680.30 L389.15,680.22 L390.65,680.13 L392.14,680.04 L393.64,679.96 L395.14,679.87 L396.63,679.79 L398.13,679.70 L399.63,679.62 L401.12,679.54 L402.62,679.45 L404.12,679.37 L405.61,679.29 L407.11,679.21 L408.61,679.12 L410.10,679.04 L411.60,678.96 L413.10,678.88 L414.59,678.79 L416.09,678.71 L417.59,678.63 L419.08,678.54 L420.58,678.46 L422.08,678.37 L423.57,678.29 L425.07,678.20 L426.57,678.11 L428.06,678.03 L429.56,677.94 L431.06,677.85 L432.55,677.76 L434.05,677.67 L435.55,677.58 L437.04,677.49 L438.54,677.39 L440.04,677.30 L441.53,677.20 L443.03,677.11 L444.52,677.01 L446.02,676.91 L447.51,676.81 L449.01,676.71 L450.51,676.60 L452.00,676.50 L453.50,676.39 L454.99,676.28 L456.49,676.17 L457.98,676.06 L459.48,675.95 L460.97,675.83 L462.47,675.72 L463.96,675.60 L465.45,675.48 L466.95,675.35 L468.44,675.23 L469.94,675.10 L471.43,674.97 L472.92,674.84 L474.42,674.70 L475.91,674.57 L477.40,674.43 L478.89,674.29 L480.39,674.14 L481.88,674.00 L483.37,673.85 L484.86,673.70 L486.35,673.54 L487.84,673.38 L489.33,673.22 L490.82,673.06 L492.31,672.89 L493.80,672.73 L495.29,672.55 L496.78,672.38 L498.27,672.20 L499.76,672.02 L501.25,671.83 L502.73,671.65 L504.22,671.46 L505.71,671.26 L507.19,671.06 L508.68,670.86 L510.16,670.66 L511.65,670.45 L513.13,670.23 L514.61,670.02 L516.10,669.80 L517.58,669.57 L519.06,669.35 L520.54,669.12 L522.02,668.88 L523.50,668.64 L524.98,668.40 L526.46,668.15 L527.94,667.90 L529.42,667.64 L530.89,667.38 L532.37,667.12 L533.84,666.85 L535.32,666.58 L536.79,666.30 L538.26,666.02 L539.73,665.73 L541.21,665.44 L542.67,665.15 L544.14,664.85 L545.61,664.54 L547.08,664.23 L548.54,663.92 L550.01,663.60 L551.47,663.28 L552.94,662.95 L554.40,662.61 L555.86,662.27 L557.31,661.92 L558.77,661.57 L560.23,661.21 L561.68,660.84 L563.13,660.46 L564.58,660.08 L566.03,659.69 L567.47,659.29 L568.91,658.88 L570.36,658.47 L571.79,658.04 L573.23,657.61 L574.66,657.17 L576.09,656.72 L577.52,656.26 L578.94,655.79 L580.36,655.31 L581.78,654.81 L583.19,654.31 L584.60,653.80 L586.00,653.27 L587.40,652.74 L588.80,652.19 L590.19,651.63 L591.57,651.06 L592.95,650.48 L594.33,649.88 L595.70,649.27 L597.06,648.65 L598.42,648.01 L599.77,647.36 L601.11,646.69 L602.45,646.01 L603.78,645.32 L605.10,644.61 L606.41,643.89 L607.72,643.15 L609.01,642.40 L610.30,641.63 L611.58,640.84 L612.85,640.04 L614.10,639.23 L615.35,638.39 L616.59,637.55 L617.81,636.68 L619.02,635.80 L620.22,634.90 L621.41,633.99 L622.59,633.05 L623.75,632.11 L624.89,631.14 L626.03,630.16 L627.15,629.16 L628.25,628.15 L629.35,627.13 L630.42,626.08 L631.49,625.03 L632.54,623.96 L633.58,622.88 L634.60,621.79 L635.62,620.68 L636.62,619.56 L637.60,618.43 L638.58,617.30 L639.54,616.15 L640.49,614.99 L641.43,613.82 L642.35,612.64 L643.27,611.45 L644.17,610.25 L645.06,609.05 L645.94,607.84 L646.81,606.62 L647.67,605.39 L648.52,604.15 L649.36,602.91 L650.19,601.66 L651.01,600.41 L651.82,599.14 L652.62,597.88 L653.41,596.60 L654.20,595.32 L654.97,594.04 L655.73,592.75 L656.49,591.46 L657.24,590.16 L657.98,588.85 L658.71,587.55 L659.44,586.23 L660.15,584.92 L660.86,583.60 L661.56,582.27 L662.26,580.94 L662.95,579.61 L663.63,578.28 L664.31,576.94 L664.97,575.60 L665.64,574.25 L666.29,572.91 L666.95,571.55 L667.59,570.20 L668.23,568.84 L668.86,567.49 L669.49,566.12 L670.11,564.76 L670.72,563.39 L671.33,562.02 L671.93,560.65 L672.53,559.27 L673.12,557.89 L673.70,556.51 L674.28,555.13 L674.86,553.75 L675.42,552.36 L675.99,550.97 L676.54,549.58 L677.09,548.18 L677.64,546.79 L678.18,545.39 L678.71,543.99 L679.24,542.59 L679.77,541.18 L680.29,539.78 L680.80,538.37 L681.31,536.96 L681.81,535.54 L682.31,534.13 L682.81,532.72 L683.30,531.30 L683.78,529.88 L684.26,528.46 L684.73,527.04 L685.20,525.61 L685.67,524.19 L686.13,522.76 L686.59,521.33 L687.04,519.91 L687.49,518.47 L687.93,517.04 L688.37,515.61 L688.81,514.17 L689.24,512.74 L689.66,511.30 L690.09,509.86 L690.51,508.42 L690.92,506.98 L691.33,505.54 L691.74,504.10 L692.15,502.66 L692.55,501.21 L692.95,499.77 L693.34,498.32 L693.73,496.87 L694.12,495.43 L694.50,493.98 L694.89,492.53 L695.26,491.08 L695.64,489.63 L696.01,488.17 L696.38,486.72 L696.75,485.27 L697.11,483.81 L697.48,482.36 L697.83,480.90 L698.19,479.45 L698.55,477.99 L698.90,476.53 L699.25,475.07 L699.59,473.62 L699.94,472.16 L700.28,470.70 L700.62,469.24 L700.96,467.78 L701.30,466.32 L701.64,464.86 L701.97,463.40 L702.30,461.93 L702.64,460.47 L702.97,459.01 L703.29,457.55 L703.62,456.08 L703.95,454.62 L704.27,453.16 L704.59,451.69 L704.91,450.23 L705.24,448.76 L705.55,447.30 L705.87,445.83 L706.19,444.37 L706.51,442.90 L706.82,441.44 L707.14,439.97 L707.45,438.51 L707.76,437.04 L708.07,435.57 L708.38,434.11 L708.69,432.64 L709.00,431.17 L709.31,429.71 L709.62,428.24 L709.93,426.77 L710.23,425.30 L710.54,423.84 L710.85,422.37 L711.15,420.90 L711.46,419.43 L711.76,417.97 L712.07,416.50 L712.37,415.03 L712.67,413.56 L712.98,412.09 L713.28,410.63 L713.58,409.16 L713.88,407.69 L714.19,406.22 L714.49,404.75 L714.79,403.29 L715.10,401.82 L715.40,400.35 L715.70,398.88 L716.00,397.41 L716.31,395.94 L716.61,394.48 L716.91,393.01 L717.22,391.54 L717.52,390.07 L717.83,388.60 L718.13,387.14 L718.44,385.67 L718.74,384.20 L719.05,382.73 L719.36,381.27 L719.66,379.80 L719.97,378.33 L720.28,376.87 L720.59,375.40 L720.90,373.93 L721.21,372.47 L721.52,371.00 L721.84,369.53 L722.15,368.07 L722.46,366.60 L722.78,365.14 L723.10,363.67 L723.41,362.20 L723.73,360.74 L724.05,359.28 L724.37,357.81 L724.69,356.35 L725.02,354.88 L725.34,353.42 L725.67,351.96 L725.99,350.49 L726.32,349.03 L726.65,347.57 L726.98,346.11 L727.31,344.64 L727.65,343.18 L727.98,341.72 L728.32,340.26 L728.66,338.80 L729.00,337.34 L729.34,335.88 L729.69,334.42 L730.03,332.96 L730.38,331.50 L730.73,330.05 L731.08,328.59 L731.43,327.13 L731.79,325.68 L732.14,324.22 L732.50,322.76 L732.86,321.31 L733.22,319.85 L733.59,318.40 L733.96,316.95 L734.32,315.49 L734.70,314.04 L735.07,312.59 L735.45,311.14 L735.82,309.69 L736.20,308.24 L736.59,306.79 L736.97,305.34 L737.36,303.89 L737.75,302.44 L738.14,301.00 L738.54,299.55 L738.94,298.11 L739.34,296.66 L739.74,295.22 L740.14,293.77 L740.55,292.33 L740.96,290.89 L741.38,289.45 L741.79,288.01 L742.22,286.57 L742.64,285.13 L743.08,283.70 L743.52,282.26 L743.96,280.83 L744.42,279.41 L744.89,277.98 L745.36,276.56 L745.85,275.14 L746.35,273.73 L746.86,272.32 L747.39,270.92 L747.93,269.52 L748.49,268.13 L749.06,266.74 L749.65,265.36 L750.26,264.00 L750.89,262.63 L751.54,261.28 L752.22,259.94 L752.91,258.62 L753.63,257.30 L754.37,256.00 L755.13,254.71 L755.92,253.43 L756.74,252.17 L757.58,250.94 L758.45,249.71 L759.35,248.51 L760.27,247.33 L761.23,246.18 L762.21,245.04 L763.21,243.93 L764.25,242.85 L765.32,241.80 L766.43,240.79 L767.57,239.81 L768.74,238.88 L769.96,238.00 L771.21,237.18 L772.50,236.42 L773.82,235.72 L775.19,235.09 L776.58,234.54 L778.00,234.05 L779.42,233.59 L780.86,233.16 L782.30,232.73 L783.73,232.30 L785.16,231.83 L786.57,231.33 L787.97,230.80 L789.36,230.23 L790.73,229.63 L792.09,229.00 L793.44,228.34 L794.76,227.64 L796.08,226.92 L797.37,226.16 L798.64,225.37 L799.90,224.56 L801.14,223.71 L802.36,222.84 L803.56,221.94 L804.74,221.02 L805.90,220.07 L807.04,219.10 L808.16,218.10 L809.27,217.08 L810.35,216.05 L811.42,215.00 L812.47,213.92 L813.50,212.84 L814.52,211.74 L815.52,210.62 L816.51,209.50 L817.48,208.36 L818.45,207.21 L819.40,206.05 L820.34,204.89 L821.27,203.71 L822.20,202.53 L823.11,201.34 L824.02,200.15 L824.93,198.96 L825.82,197.76 L826.72,196.55 L827.61,195.34 L828.49,194.14 L829.38,192.93 L830.26,191.72 L831.15,190.50 L832.03,189.29 L832.92,188.09 L833.81,186.88 L834.70,185.67 L835.59,184.47 L836.50,183.27 L837.40,182.08 L838.32,180.89 L839.24,179.71 L840.17,178.53 L841.11,177.36 L842.05,176.20 L843.01,175.05 L843.99,173.91 L844.97,172.78 L845.97,171.66 L846.98,170.55 L848.01,169.46 L849.05,168.38 L850.11,167.32 L851.18,166.28 L852.28,165.25 L853.39,164.25 L854.52,163.26 L855.67,162.30 L856.84,161.36 L858.03,160.45 L859.24,159.57 L860.47,158.71 L861.72,157.88 L862.99,157.08 L864.27,156.31 L865.57,155.57 L866.89,154.85 L868.22,154.16 L869.56,153.48 L870.91,152.83 L872.26,152.19 L873.63,151.57 L875.00,150.97 L876.38,150.37 L877.76,149.79 L879.14,149.21 L880.53,148.64 L881.92,148.08 L883.31,147.52 L884.70,146.96 L886.09,146.40 L887.48,145.83 L888.86,145.27 L890.25,144.69 L891.63,144.11 L893.01,143.53 L894.38,142.92 L895.75,142.31 L897.11,141.68 L898.47,141.04 L899.81,140.38 L901.15,139.70 L902.48,139.01 L903.80,138.30 L905.11,137.57 L906.42,136.83 L907.71,136.08 L909.00,135.31 L910.28,134.53 L911.55,133.73 L912.81,132.93 L914.07,132.11 L915.31,131.27 L916.55,130.43 L917.79,129.58 L919.01,128.71 L920.23,127.84 L921.44,126.96 L922.64,126.06 L923.84,125.16 L925.03,124.25 L926.22,123.34 L927.40,122.41 L928.57,121.48 L929.74,120.54 L930.91,119.60 L932.07,118.65 L933.22,117.69 L934.38,116.73 L935.52,115.77 L936.67,114.80 L937.81,113.83 L938.95,112.85 L940.08,111.87 L941.21,110.89 L942.34,109.91 L943.47,108.92 L944.60,107.93 L945.72,106.94 L946.84,105.94 L947.96,104.94 L949.07,103.94 L950.19,102.93 L951.30,101.93 L952.40,100.91 L953.51,99.90 L954.61,98.88 L955.71,97.87 L956.80,96.84 L957.90,95.82 L958.99,94.79 L960.08,93.76 L961.16,92.72 L962.25,91.69 L963.32,90.65 L964.40,89.60 L965.48,88.56 L966.55,87.51 L967.61,86.46 L968.68,85.40 L969.74,84.34 L970.80,83.28 L971.86,82.22 L972.91,81.15 L973.96,80.08 L975.01,79.01 L976.05,77.93 L977.09,76.85 L978.13,75.77 L979.16,74.69 L980.19,73.60 L981.22,72.51 L982.25,71.41 L983.27,70.31 L984.28,69.21 L985.30,68.11 L986.31,67.00 L987.32,65.89 L988.32,64.78 L989.32,63.66 L990.32,62.54" stroke="#808000" stroke-width="3.4" stroke-dasharray="10.3 8.1 1.4 8.5" stroke-dashoffset="26.9" stroke-linecap="round"/>
</g>
<text transform="translate(153,701.70) scale(1,1.05)" font-size="27.5" text-anchor="end">0.0000</text>
<text transform="translate(153,588.88) scale(1,1.05)" font-size="27.5" text-anchor="end">0.0001</text>
<text transform="translate(153,476.07) scale(1,1.05)" font-size="27.5" text-anchor="end">0.0002</text>
<text transform="translate(153,363.25) scale(1,1.05)" font-size="27.5" text-anchor="end">0.0003</text>
<text transform="translate(153,250.43) scale(1,1.05)" font-size="27.5" text-anchor="end">0.0004</text>
<text transform="translate(153,137.62) scale(1,1.05)" font-size="27.5" text-anchor="end">0.0005</text>
<text transform="translate(153,24.80) scale(1,1.05)" font-size="27.5" text-anchor="end">0.0006</text>
<text transform="translate(176.50,737.9) scale(1,1.05)" font-size="27.5" text-anchor="middle">2.5</text>
<text transform="translate(292.90,737.9) scale(1,1.05)" font-size="27.5" text-anchor="middle">3.0</text>
<text transform="translate(409.30,737.9) scale(1,1.05)" font-size="27.5" text-anchor="middle">3.5</text>
<text transform="translate(525.70,737.9) scale(1,1.05)" font-size="27.5" text-anchor="middle">4.0</text>
<text transform="translate(642.10,737.9) scale(1,1.05)" font-size="27.5" text-anchor="middle">4.5</text>
<text transform="translate(758.50,737.9) scale(1,1.05)" font-size="27.5" text-anchor="middle">5.0</text>
<text transform="translate(874.90,737.9) scale(1,1.05)" font-size="27.5" text-anchor="middle">5.5</text>
<text transform="translate(991.30,737.9) scale(1,1.05)" font-size="27.5" text-anchor="middle">6.0</text>
<text x="595.5" y="794" font-size="37.4" text-anchor="middle">Voltage, V</text>
<text transform="translate(29,346) rotate(-90)" x="0" y="0" font-size="37" text-anchor="middle">Current, A</text>
<g fill="none">
<line x1="211.5" y1="61.5" x2="287" y2="61.5" stroke="#000" stroke-width="2.7" stroke-linecap="round"/>
<line x1="211.5" y1="102.6" x2="287" y2="102.6" stroke="#ff0000" stroke-width="2.7" stroke-linecap="round" stroke-dasharray="8 9.5"/>
<line x1="211.5" y1="143.2" x2="287" y2="143.2" stroke="#0000ff" stroke-width="3.2" stroke-linecap="round" stroke-dasharray="1.3 13.1"/>
<line x1="211.5" y1="184.0" x2="287" y2="184.0" stroke="#808000" stroke-width="3.3" stroke-linecap="round" stroke-dasharray="12.3 8.2 1.8 8.2"/>
</g>
<text transform="translate(296.5,72.8) scale(1,1.045)" font-size="34">PMMA membrane</text>
<text transform="translate(296.5,113.7) scale(1,1.045)" font-size="34">PMMA/PAN (75/25) membrane</text>
<text transform="translate(296.5,154.6) scale(1,1.045)" font-size="34">PMMA/PAN (50/50) membrane</text>
<text transform="translate(296.5,195.4) scale(1,1.045)" font-size="34">Microporous PP membrane</text>
</svg></body></html>
